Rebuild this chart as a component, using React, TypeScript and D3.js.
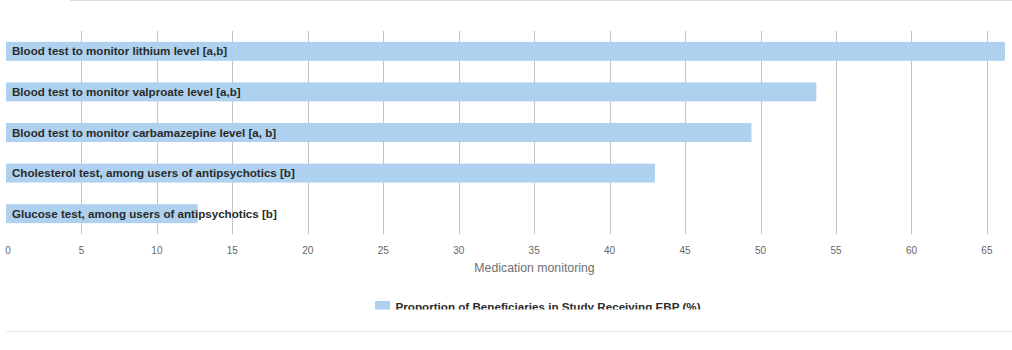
import React from "react";
import * as d3 from "d3";

const categories = [
  "Blood test to monitor lithium level [a,b]",
  "Blood test to monitor valproate level [a,b]",
  "Blood test to monitor carbamazepine level [a, b]",
  "Cholesterol test, among users of antipsychotics [b]",
  "Glucose test, among users of antipsychotics [b]",
];
const values = [66.2, 53.7, 49.4, 43.0, 12.7];
const ticks = [0, 5, 10, 15, 20, 25, 30, 35, 40, 45, 50, 55, 60, 65];
const axisTitle = "Medication monitoring";
const legendLabel = "Proportion of Beneficiaries in Study Receiving EBP (%)";

const width = 1012;
const height = 350;
const font = "'Liberation Sans', Arial, sans-serif";

export default function App() {
  const x = d3.scaleLinear().domain([0, 66.2]).range([6, 1005]);
  const y = d3
    .scaleBand<string>()
    .domain(categories)
    .range([31, 234])
    .paddingInner(0.533)
    .paddingOuter(0.267);

  return (
    <svg
      width={width}
      height={height}
      style={{ position: "absolute", left: 0, top: 0, fontFamily: font }}
    >
      <defs>
        <clipPath id="legclip">
          <rect x={0} y={290} width={width} height={19.5} />
        </clipPath>
      </defs>
      <rect width={width} height={height} fill="#fff" />
      <line x1={70} x2={width} y1={0.5} y2={0.5} stroke="#dcdcdc" />

      {/* grid */}
      {ticks
        .filter((t) => t > 0)
        .map((t) => (
          <line
            key={t}
            x1={Math.round(x(t)) + 0.5}
            x2={Math.round(x(t)) + 0.5}
            y1={31}
            y2={234}
            stroke="#c3c3c3"
          />
        ))}

      {/* bars */}
      {categories.map((c, i) => (
        <g key={c}>
          <rect
            x={x(0)}
            y={y(c)}
            width={x(values[i]) - x(0)}
            height={y.bandwidth()}
            fill="#aed1ef"
          />
          <text
            x={12}
            y={y(c)! + y.bandwidth() / 2}
            dy="0.35em"
            fontSize={11.6}
            fontWeight="bold"
            fill="#2a2a2a"
          >
            {c}
          </text>
        </g>
      ))}

      {/* tick labels */}
      {ticks.map((t) => (
        <text
          key={t}
          x={Math.max(x(t), 8)}
          y={250}
          dy="0.35em"
          textAnchor="middle"
          fontSize={10}
          fill="#666"
        >
          {t}
        </text>
      ))}
      <text
        x={534.5}
        y={268}
        dy="0.35em"
        textAnchor="middle"
        fontSize={12.3}
        fill="#707070"
      >
        {axisTitle}
      </text>

      {/* legend */}
      <g clipPath="url(#legclip)">
        <rect x={375} y={301} width={15} height={10} fill="#aed1ef" />
        <text x={395.5} y={311} fontSize={11.65} fontWeight="bold" fill="#2a2a2a">
          {legendLabel}
        </text>
      </g>

      <line x1={6} x2={width} y1={331.5} y2={331.5} stroke="#e8e8e8" />
    </svg>
  );
}
